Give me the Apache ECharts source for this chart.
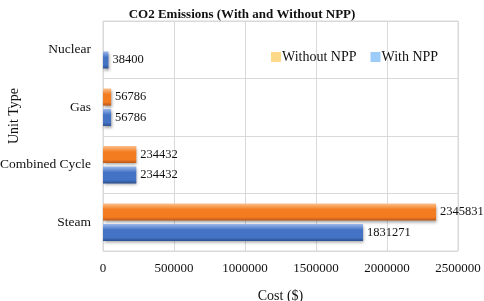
<!DOCTYPE html>
<html>
<head>
<meta charset="utf-8">
<script src="https://cdn.jsdelivr.net/npm/echarts@6/dist/echarts.min.js"></script>
<style>
  html, body { margin: 0; padding: 0; background: #fff; }
  #chart { width: 484px; height: 301px; }
</style>
</head>
<body>
<div id="chart"></div>
<script>
const categories = ['Steam', 'Combined Cycle', 'Gas', 'Nuclear']
const withNpp = [1831271, 234432, 56786, 38400]
const withoutNpp = [2345831, 234432, 56786, null]
const xTicks = { min: 0, max: 2500000, interval: 500000 }

const font = 'Liberation Serif'

function grad(top, mid, bottom) {
  return new echarts.graphic.LinearGradient(0, 0, 0, 1, [
    { offset: 0, color: top },
    { offset: 0.35, color: mid },
    { offset: 0.8, color: mid },
    { offset: 1, color: bottom }
  ])
}

const labelOption = {
  show: true,
  position: 'right',
  distance: 4,
  color: '#111',
  fontFamily: font,
  fontSize: 12.5
}

const myChart = echarts.init(document.getElementById('chart'))
const option = {
  animation: false,
  title: {
    text: 'CO2 Emissions (With and Without NPP)',
    left: 'center',
    top: 3,
    textStyle: { fontFamily: font, fontSize: 13, fontWeight: 'bold', color: '#111' }
  },
  legend: {
    top: 45,
    left: 266,
    itemWidth: 10,
    itemHeight: 10,
    itemGap: 14,
    icon: 'rect',
    textStyle: { fontFamily: font, fontSize: 14, color: '#111', padding: [0, 0, 0, -4] },
    data: [
      { name: 'Without NPP', itemStyle: { color: '#FFD98A' } },
      { name: 'With NPP', itemStyle: { color: '#9CCBF7' } }
    ]
  },
  grid: {
    left: 103,
    right: 26,
    top: 21,
    bottom: 50,
    outerBoundsMode: 'none',
    containLabel: false,
    show: true,
    borderColor: '#d9d9d9',
    borderWidth: 1
  },
  xAxis: {
    type: 'value',
    min: xTicks.min,
    max: xTicks.max,
    interval: xTicks.interval,
    name: 'Cost ($)',
    nameLocation: 'middle',
    nameGap: 38,
    nameMoveOverlap: false,
    nameTextStyle: { fontFamily: font, fontSize: 14, color: '#111' },
    axisLine: { show: false },
    axisTick: { show: false },
    axisLabel: { fontFamily: font, fontSize: 13, color: '#111', margin: 11, formatter: v => String(v) },
    splitLine: { lineStyle: { color: '#d9d9d9' } }
  },
  yAxis: {
    type: 'category',
    data: categories,
    name: 'Unit Type',
    nameLocation: 'middle',
    nameGap: 82,
    nameMoveOverlap: false,
    nameTextStyle: { fontFamily: font, fontSize: 14, color: '#111', padding: [0, 0, 0, 40] },
    axisLine: { show: false },
    axisTick: { show: false },
    axisLabel: { fontFamily: font, fontSize: 13.5, color: '#111', margin: 12 },
    splitLine: { show: true, lineStyle: { color: '#d9d9d9' } }
  },
  series: [
    {
      name: 'Without NPP',
      type: 'bar',
      barWidth: 17,
      barGap: '20%',
      label: labelOption,
      itemStyle: {
        color: grad('#FBC08C', '#F47C20', '#B9571A'),
        shadowColor: 'rgba(0,0,0,0.35)',
        shadowBlur: 3,
        shadowOffsetY: 2,
        shadowOffsetX: 1
      },
      data: withoutNpp
    },
    {
      name: 'With NPP',
      type: 'bar',
      barWidth: 17,
      barGap: '20%',
      label: labelOption,
      itemStyle: {
        color: grad('#9DB9EC', '#4472C4', '#2C4F8F'),
        shadowColor: 'rgba(0,0,0,0.35)',
        shadowBlur: 3,
        shadowOffsetY: 2,
        shadowOffsetX: 1
      },
      data: withNpp
    }
  ]
}
myChart.setOption(option)
</script>
</body>
</html>
